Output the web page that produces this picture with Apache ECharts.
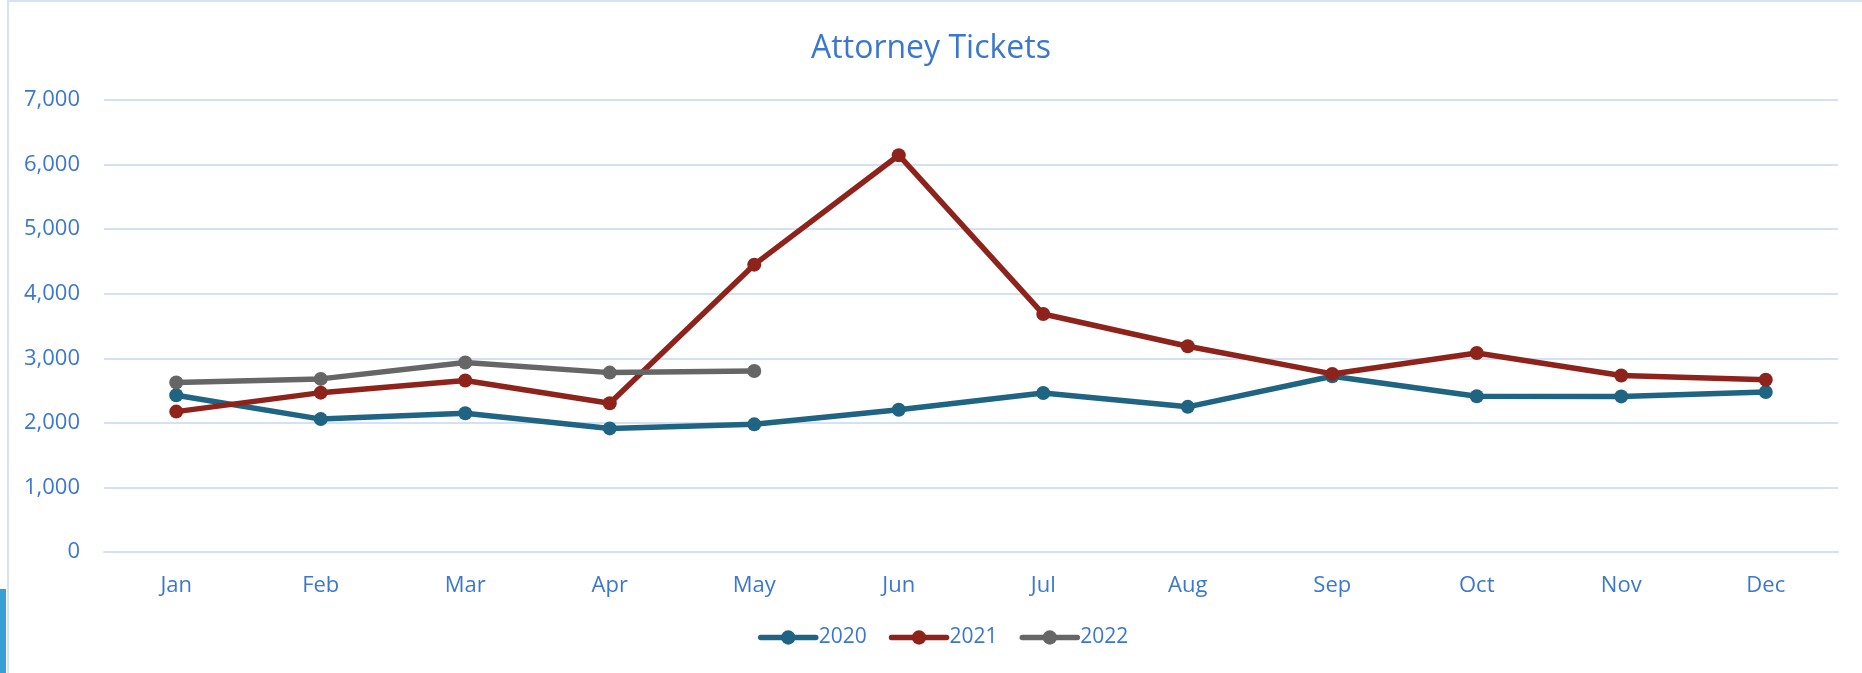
<!doctype html>
<html lang="en">
<head>
    <meta charset="UTF-8">
    <title>Attorney Tickets</title>
    <script src="https://cdn.jsdelivr.net/npm/echarts@6/dist/echarts.min.js"></script>
    <style>
        html, body { margin: 0; padding: 0; background: #fff; }
        #chart { width: 1862px; height: 673px; }
    </style>
</head>
<body>
<div id="chart"></div>
<script type="text/javascript">
    // data
    var months = ['Jan', 'Feb', 'Mar', 'Apr', 'May', 'Jun', 'Jul', 'Aug', 'Sep', 'Oct', 'Nov', 'Dec'];
    var tickets2020 = [2428, 2058, 2148, 1914, 1977, 2203, 2462, 2248, 2722, 2412, 2410, 2478];
    var tickets2021 = [2174, 2468, 2655, 2303, 4450, 6145, 3685, 3187, 2758, 3083, 2733, 2668];
    var tickets2022 = [2624, 2681, 2934, 2778, 2803];

    var textBlue = '#3a78d0';
    var gridBlue = '#d4e1f4';
    var font = 'Open Sans';

    function lineSeries(name, data, color) {
        return {
            name: name,
            type: 'line',
            data: data,
            symbol: 'circle',
            symbolSize: 14,
            showAllSymbol: true,
            lineStyle: { width: 5.5, color: color },
            itemStyle: { color: color },
            emphasis: { disabled: true }
        };
    }

    var myChart = echarts.init(document.getElementById('chart'));
    myChart.setOption({
        animation: false,
        title: {
            text: 'Attorney Tickets',
            left: 'center',
            top: 28,
            textStyle: { color: textBlue, fontSize: 32, fontWeight: 'normal', fontFamily: font }
        },
        legend: {
            data: ['2020', '2021', '2022'],
            top: 622,
            left: 753,
            itemWidth: 55,
            itemHeight: 18,
            itemGap: 22,
            lineStyle: { width: 5.5, cap: 'round' },
            textStyle: { color: textBlue, fontSize: 21, fontFamily: font, padding: [0, 0, 0, -2] }
        },
        grid: { left: 104, right: 24, top: 100, bottom: 121 },
        xAxis: {
            type: 'category',
            data: months,
            axisLine: { lineStyle: { color: gridBlue, width: 2 } },
            axisTick: { show: false },
            axisLabel: { color: textBlue, fontSize: 22, fontFamily: font, margin: 23 }
        },
        yAxis: {
            type: 'value',
            min: 0,
            max: 7000,
            interval: 1000,
            axisLine: { show: false },
            axisTick: { show: false },
            splitLine: { lineStyle: { color: gridBlue, width: 2 } },
            axisLabel: {
                color: textBlue, fontSize: 22, fontFamily: font, margin: 24,
                formatter: function (v) { return v.toLocaleString('en-US'); }
            }
        },
        graphic: [
            { type: 'rect', shape: { x: 8, y: 1, width: 1900, height: 700 }, style: { fill: 'none', stroke: '#d5e3f3', lineWidth: 2 } },
            { type: 'rect', shape: { x: 0, y: 589, width: 6, height: 84 }, style: { fill: '#3a9fd5' } }
        ],
        series: [
            lineSeries('2020', tickets2020, '#1f6482'),
            lineSeries('2021', tickets2021, '#8e231c'),
            lineSeries('2022', tickets2022, '#666666')
        ]
    });
</script>
</body>
</html>
